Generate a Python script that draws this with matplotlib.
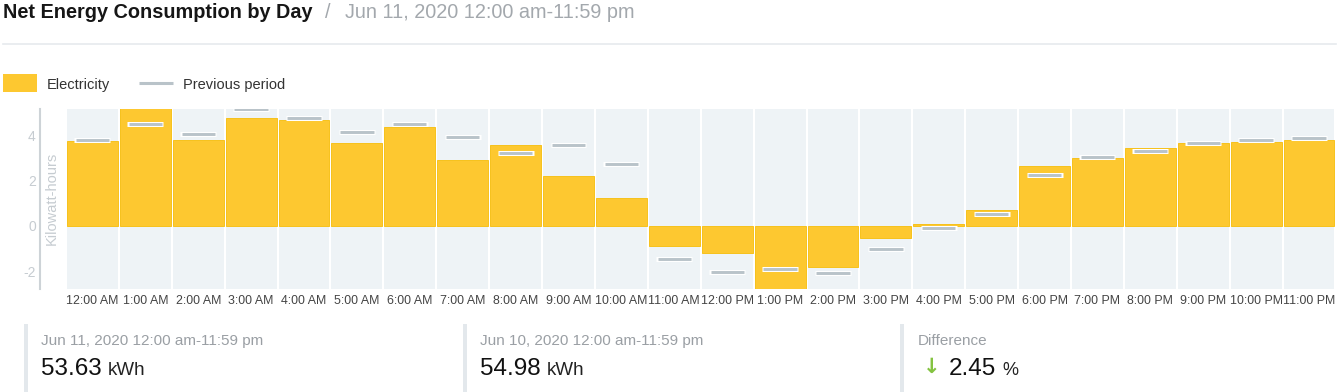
import matplotlib
matplotlib.use("Agg")
import matplotlib.pyplot as plt
from matplotlib.patches import Rectangle
from matplotlib.lines import Line2D
import numpy as np

# ---------------- data ----------------
hours = ["12:00 AM", "1:00 AM", "2:00 AM", "3:00 AM", "4:00 AM", "5:00 AM",
         "6:00 AM", "7:00 AM", "8:00 AM", "9:00 AM", "10:00 AM", "11:00 AM",
         "12:00 PM", "1:00 PM", "2:00 PM", "3:00 PM", "4:00 PM", "5:00 PM",
         "6:00 PM", "7:00 PM", "8:00 PM", "9:00 PM", "10:00 PM", "11:00 PM"]
electricity = [3.76, 5.30, 3.82, 4.77, 4.71, 3.66, 4.39, 2.93, 3.60, 2.22, 1.22, -0.87,
               -1.20, -2.85, -1.82, -0.53, 0.10, 0.71, 2.65, 2.99, 3.44, 3.66, 3.72, 3.82]
previous = [3.82, 4.53, 4.09, 5.20, 4.76, 4.15, 4.53, 3.93, 3.24, 3.59, 2.76, -1.47,
            -2.03, -1.91, -2.09, -1.02, -0.09, 0.53, 2.25, 3.04, 3.31, 3.69, 3.79, 3.88]
y_ticks = [-2, 0, 2, 4]
y_limits = (-2.79, 5.18)

title = "Net Energy Consumption by Day"
subtitle = "Jun 11, 2020 12:00 am-11:59 pm"
summary_labels = ["Jun 11, 2020 12:00 am-11:59 pm", "Jun 10, 2020 12:00 am-11:59 pm", "Difference"]
summary_values = ["53.63", "54.98", "2.45"]
summary_units = ["kWh", "kWh", "%"]

# ---------------- style ----------------
W, H = 1340, 392
FONT = "Liberation Sans"
plt.rcParams["font.family"] = [FONT, "DejaVu Sans"]
BAR = "#fdc830"
BAR_EDGE = "#f7c21c"
SLOT = "#eef3f6"
PREV = "#b9c3c9"
LIGHT = "#c6ccd1"


def fx(x):
    return x / W


def fy(y):
    return 1 - y / H


fig = plt.figure(figsize=(W / 100, H / 100), dpi=100)
fig.patch.set_facecolor("white")

# header
fig.text(fx(3), fy(17.5), title, fontsize=14.3, fontweight="bold", color="#161616",
         ha="left", va="baseline")
fig.text(fx(325), fy(17.5), "/", fontsize=14.3, color="#a3a8ad", ha="left", va="baseline")
fig.text(fx(345), fy(17.5), subtitle, fontsize=14.3, color="#a3a8ad", ha="left", va="baseline")
fig.add_artist(Line2D([fx(3), fx(1336)], [fy(44), fy(44)], color="#e6eaee", lw=1.2,
                      transform=fig.transFigure))

# legend
fig.add_artist(Rectangle((fx(3.4), fy(91.7)), fx(37) - fx(3.4), fy(74) - fy(91.7),
                         facecolor=BAR, edgecolor="none", transform=fig.transFigure))
fig.text(fx(47), fy(89), "Electricity", fontsize=10.5, color="#333333", ha="left", va="baseline")
fig.add_artist(Line2D([fx(139), fx(172.5)], [fy(83.3), fy(83.3)], color=PREV, lw=2.2,
                      solid_capstyle="butt", transform=fig.transFigure))
fig.text(fx(183), fy(89), "Previous period", fontsize=10.5, color="#333333", ha="left", va="baseline")

# main axes
ax_left, ax_right, ax_top, ax_bottom = 40, 1336, 109, 289
ax = fig.add_axes([fx(ax_left), fy(ax_bottom), (ax_right - ax_left) / W, (ax_bottom - ax_top) / H])
ax.set_facecolor("white")
n = len(hours)
x = np.arange(n)
slot_px = (1335.5 - 66) / n
extra = (66 - ax_left) / slot_px
ax.set_xlim(-0.5 - extra, n - 0.5 + (ax_right - 1335.5) / slot_px)
ax.set_ylim(*y_limits)

bw = 0.962
ax.bar(x, y_limits[1] - y_limits[0], bottom=y_limits[0], width=bw, color=SLOT, zorder=0)
ax.bar(x, electricity, width=bw, color=BAR, edgecolor=BAR_EDGE, linewidth=0.7, zorder=2)
ax.hlines(previous, x - 0.34, x + 0.34, colors="white", lw=3.6, zorder=3)
ax.hlines(previous, x - 0.315, x + 0.315, colors=PREV, lw=2.1, zorder=4)

ax.set_xticks(x)
ax.set_xticklabels(hours, fontsize=8.9, color="#444444")
ax.set_yticks(y_ticks)
ax.set_yticklabels([str(v) for v in y_ticks], fontsize=10, color=LIGHT)
ax.tick_params(axis="x", length=0, pad=4.5)
ax.tick_params(axis="y", length=0, pad=3)
for s in ["top", "right", "bottom"]:
    ax.spines[s].set_visible(False)
ax.spines["left"].set_color("#cdd3d7")
ax.spines["left"].set_linewidth(1.5)
fig.text(fx(52), fy(198.5), "Kilowatt-hours", rotation=90, fontsize=10.5, color=LIGHT,
         ha="center", va="center")

# summary panels
panel_bar_x = [23.5, 463, 900]
panel_text_x = [41, 480, 918]
for i in range(3):
    bx = panel_bar_x[i]
    fig.add_artist(Rectangle((fx(bx), fy(392)), fx(4), fy(324) - fy(392),
                             facecolor="#e3e8ec", edgecolor="none", transform=fig.transFigure))
    tx = panel_text_x[i]
    fig.text(fx(tx), fy(345.3), summary_labels[i], fontsize=11, color="#9a9fa4",
             ha="left", va="baseline")
    vx = tx
    if i == 2:
        fig.text(fx(931.5), fy(367), "\u2193", fontsize=15, fontweight="bold", color="#84c341",
                 ha="center", va="center", family="DejaVu Sans")
        vx = 949
    t = fig.text(fx(vx), fy(374.7), summary_values[i], fontsize=17.5, color="#111111",
                 ha="left", va="baseline")
    fig.canvas.draw()
    bb = t.get_window_extent()
    fig.text(fx(bb.x1 + 6), fy(374.7), summary_units[i], fontsize=13.5 if i < 2 else 13,
             color="#222222", ha="left", va="baseline")

fig.savefig("out.png", dpi=100, facecolor="white")
